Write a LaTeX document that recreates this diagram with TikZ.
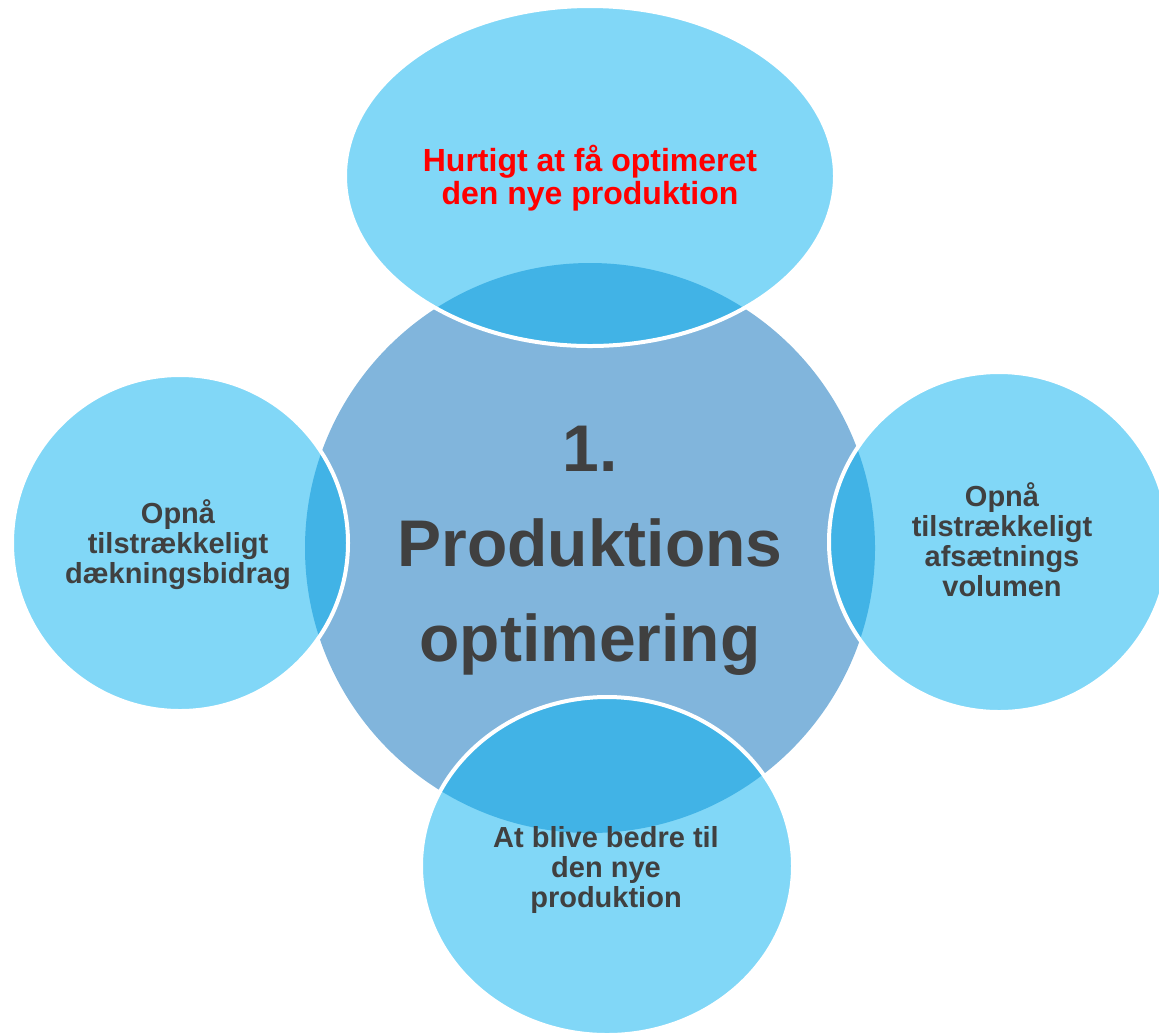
\documentclass[tikz,border=0pt]{standalone}
\usepackage{fontspec}
\setmainfont{Liberation Sans}
\usepackage{tikz}
\definecolor{outerblue}{HTML}{81D7F7}
\definecolor{midblue}{HTML}{81B5DC}
\definecolor{deepblue}{HTML}{41B3E6}
\definecolor{textgrey}{HTML}{404040}

\begin{document}
\begin{tikzpicture}[x=0.5pt, y=-0.5pt,
  rim/.style={draw=white, line width=2pt},
  small/.style={font=\fontsize{14.5}{15}\selectfont\bfseries, text=textgrey, align=center},
  big/.style={font=\fontsize{33}{47.5}\selectfont\bfseries, text=textgrey, align=center}]
\useasboundingbox (0,0) rectangle (1159,1034);
\clip (0,0) rectangle (1159,1034);
\fill[midblue] (590,548) circle (285);
\fill[outerblue] (590,176) ellipse (245 and 170);
\fill[outerblue] (180,543) circle (168);
\fill[outerblue] (999,542) circle (170);
\fill[outerblue] (607,866) ellipse (186 and 169);
\begin{scope}
 \clip (590,548) circle (285);
 \fill[deepblue] (590,176) ellipse (245 and 170);
 \fill[deepblue] (180,543) circle (168);
 \fill[deepblue] (999,542) circle (170);
 \fill[deepblue] (607,866) ellipse (186 and 169);
\end{scope}
\draw[rim] (590,176) ellipse (245 and 170);
\draw[rim] (180,543) circle (168);
\draw[rim] (999,542) circle (170);
\draw[rim] (607,866) ellipse (186 and 169);
\node[big] (centre) at (590,551) {1.\\Produktions\\optimering};
\node[small, text=red, font=\fontsize{16}{16.5}\selectfont\bfseries] (top) at (590,178) {Hurtigt at få optimeret\\den nye produktion};
\node[small] (left) at (178,545) {Opnå\\tilstrækkeligt\\dækningsbidrag};
\node[small] (right) at (1002,540) {Opnå\\tilstrækkeligt\\afsætnings\\volumen};
\node[small] (bottom) at (606,870) {At blive bedre til\\den nye\\produktion};
\end{tikzpicture}
\end{document}
